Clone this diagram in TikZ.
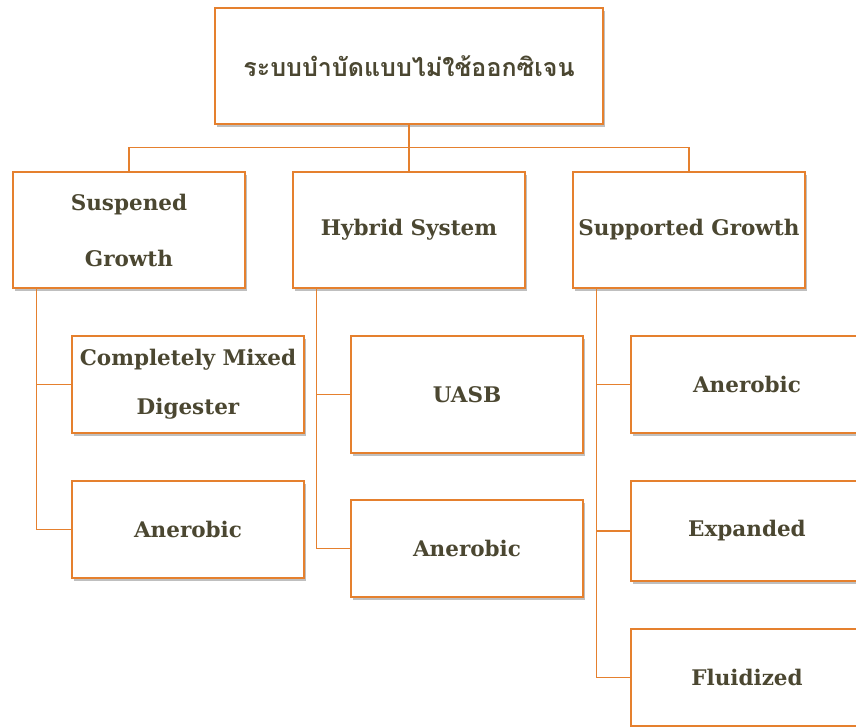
\documentclass[tikz,border=0pt]{standalone}
\usepackage{fontspec}
\setmainfont{DejaVu Serif}
\newfontfamily\thaifont[Script=Thai]{Loma}
\usepackage{xcolor}
\usetikzlibrary{shadows}
\definecolor{boxline}{HTML}{E5802E}
\definecolor{boxtext}{HTML}{4B4731}
\begin{document}
\begin{tikzpicture}[x=1pt,y=-1pt,
  box/.style={draw=boxline,line width=1.2pt,fill=white,text=boxtext,align=center,inner sep=0pt,
    font=\fontsize{21.5}{27}\selectfont\bfseries,
    drop shadow={shadow xshift=2pt,shadow yshift=-2.5pt,opacity=0.25,fill=black}},
  link/.style={draw=boxline,line width=1.1pt}]
\useasboundingbox (0,0) rectangle (856,726);
\clip (0,0) rectangle (856,726);
\node[box,minimum width=388,minimum height=116,font=\fontsize{25}{30}\selectfont\thaifont\bfseries] (root) at (409,66) {ระบบบำบัดแบบไม่ใช้ออกซิเจน};
\node[box,minimum width=232,minimum height=116] (susp) at (129,230) {Suspened\\[29pt]Growth};
\node[box,minimum width=232,minimum height=116] (hyb) at (409,230) {Hybrid System};
\node[box,minimum width=232,minimum height=116] (supp) at (689,230) {Supported Growth};
\draw[link] (root.south) -- ++(0,23) -| (susp.north);
\draw[link] (root.south) -- ++(0,23) -| (supp.north);
\draw[link] (root.south) -- (hyb.north);
% suspended growth
\node[box,minimum width=232,minimum height=97] (cmd) at (188,384.5) {Completely Mixed\\[22pt]Digester};
\node[box,minimum width=232,minimum height=97] (sanr) at (188,529.5) {Anerobic};
\draw[link] ([xshift=24]susp.south west) |- (cmd.west);
\draw[link] ([xshift=24]susp.south west) |- (sanr.west);
% hybrid system
\node[box,minimum width=232,minimum height=117] (uasb) at (467,394.5) {UASB};
\node[box,minimum width=232,minimum height=97] (hanr) at (467,548.5) {Anerobic};
\draw[link] ([xshift=24]hyb.south west) |- (uasb.west);
\draw[link] ([xshift=24]hyb.south west) |- (hanr.west);
% supported growth
\node[box,minimum width=232,minimum height=97] (panr) at (747,384.5) {Anerobic};
\node[box,minimum width=232,minimum height=100] (expd) at (747,531) {Expanded};
\node[box,minimum width=232,minimum height=97] (flud) at (747,677.5) {Fluidized};
\draw[link] ([xshift=24]supp.south west) |- (panr.west);
\draw[link] ([xshift=24]supp.south west) |- (expd.west);
\draw[link] ([xshift=24]supp.south west) |- (flud.west);
\end{tikzpicture}
\end{document}
